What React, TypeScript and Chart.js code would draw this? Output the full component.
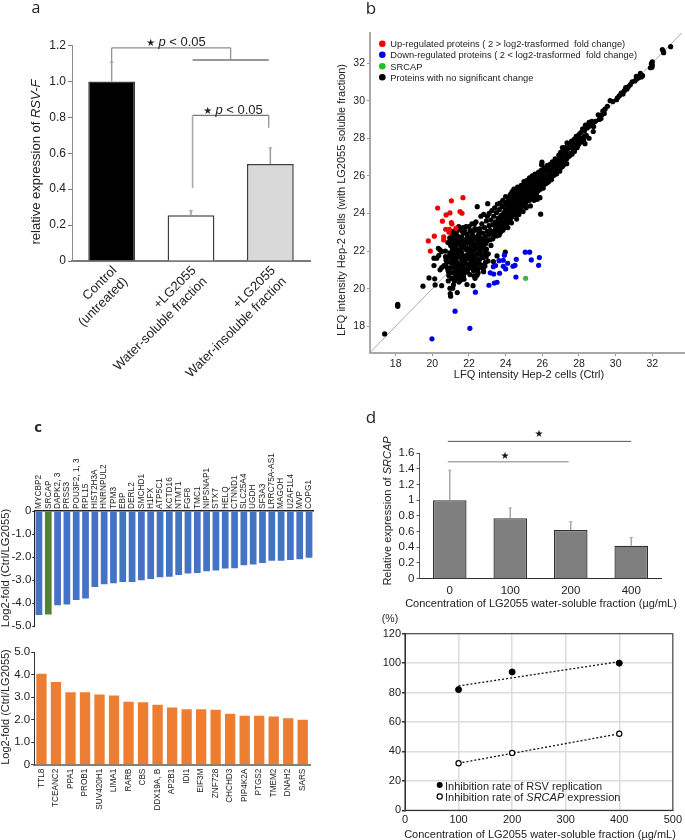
import React, { useEffect, useRef } from "react";
import { Chart, registerables } from "chart.js";

Chart.register(...registerables);

const SANS = "'Liberation Sans', Arial, sans-serif";
const LETTER = "'Open Sans', sans-serif";
const STAR = "'DejaVu Sans', sans-serif";

// ---------- panel a ----------
const aCategories = [
  ["Control", "(untreated)"],
  ["+LG2055", "Water-soluble fraction"],
  ["+LG2055", "Water-insoluble fraction"],
];
const aValues = [1.0, 0.255, 0.54];
const aErrorTops = [1.107, 0.28, 0.63];
const aColors = ["#000000", "#ffffff", "#d9d9d9"];

// ---------- panel b ----------
const bTicks = [18, 20, 22, 24, 26, 28, 30, 32];
const bDiagonal = [16.56, 33.7];
const bRed = [
  [21.67, 24.84], [21.04, 24.67], [20.29, 24.29], [21.51, 24.1], [21.62, 24.01], [20.96, 24.03], [20.75, 23.92],
  [20.55, 23.59], [21.04, 23.51], [21.07, 23.44], [20.73, 23.16], [20.93, 23.16], [20.91, 23.0], [21.29, 23.21],
  [20.62, 22.75], [20.62, 22.59], [20.11, 22.79], [19.78, 22.54], [19.89, 22.0],
];
const bBlue = [
  [19.98, 17.33], [22.05, 17.89], [21.24, 18.8], [22.35, 19.81], [23.09, 20.18], [23.38, 20.3], [23.53, 20.34],
  [24.56, 20.62], [23.16, 20.84], [23.35, 20.78], [23.67, 20.82], [23.33, 21.17], [23.45, 21.23], [23.87, 21.19],
  [24.0, 21.05], [23.64, 21.49], [23.87, 21.51], [24.11, 21.35], [24.4, 21.19], [24.51, 21.24], [24.58, 21.56],
  [23.93, 21.78], [25.07, 21.94], [25.31, 21.94], [25.4, 21.53], [25.84, 21.65], [25.8, 21.24],
];
const bGreen = [[25.09, 20.55]];
const bBlackSparse = [
  [17.4, 17.59], [18.11, 19.17], [18.11, 19.06], [18.11, 19.11], [19.49, 20.13], [19.82, 20.57], [20.13, 20.52], [20.15, 20.2],
  [20.51, 20.16], [21.0, 19.6], [20.98, 19.74], [21.36, 19.79], [21.11, 20.02], [21.15, 20.2], [20.96, 20.02],
  [21.89, 20.22], [22.22, 20.16], [20.87, 20.41], [21.6, 20.55], [21.73, 20.5], [22.33, 20.55], [22.44, 20.71],
  [22.27, 20.68], [21.91, 20.9], [22.78, 21.07], [22.8, 20.9], [20.09, 21.23], [20.09, 21.62], [20.24, 21.62],
  [20.35, 21.76], [20.33, 22.15], [20.42, 22.06], [20.71, 22.0], [20.51, 21.97], [20.42, 21.0], [20.51, 21.12],
  [20.64, 21.23], [20.75, 21.53], [23.53, 21.74], [23.98, 21.94], [23.33, 21.44], [23.04, 21.47], [25.91, 23.96],
  [23.02, 24.52], [22.45, 24.36], [25.64, 24.83], [25.87, 24.84], [25.98, 26.73], [25.96, 26.59], [26.78, 26.11],
  [27.33, 26.65],
];
const bBlackBlob = [
  [20.8, 21.4], [20.85, 21.0], [20.9, 20.7], [20.95, 22.7], [20.85, 22.45], [20.9, 21.7], [21, 22.3], [21, 21.1],
  [21.05, 20.55], [21.05, 21.35], [21.1, 22.85], [21.1, 22.05], [21.1, 20.85], [21.15, 21.6], [21.15, 22.55],
  [21.2, 21.15], [21.2, 20.4], [21.25, 22.25], [21.25, 21.85], [21.3, 20.7], [21.3, 22.95], [21.35, 21.4],
  [21.35, 22.6], [21.4, 21.05], [21.4, 22.0], [21.45, 20.35], [21.45, 21.7], [21.5, 22.35], [21.5, 23.2],
  [21.55, 20.85], [21.55, 21.25], [21.6, 22.75], [21.6, 21.95], [21.65, 21.5], [21.7, 20.65], [21.7, 22.2],
  [21.75, 23.1], [21.75, 21.05], [21.8, 22.5], [21.8, 21.75], [21.85, 20.95], [21.9, 21.3], [21.9, 22.9],
  [21.95, 22.15], [22, 23.3], [22, 21.6], [22.05, 20.75], [22.05, 22.65], [22.1, 21.1], [22.1, 21.95],
  [22.15, 23.0], [22.2, 21.45], [22.25, 22.4], [22.25, 20.95], [22.3, 23.45], [22.3, 21.8], [22.35, 21.25],
  [22.4, 22.75], [22.45, 21.6], [22.45, 23.15], [22.5, 22.1], [22.5, 20.85], [20.95, 21.9], [21.05, 22.55],
  [21.12, 21.2], [21.18, 22.75], [21.22, 21.45], [21.28, 21.0], [21.32, 22.1], [21.38, 20.5], [21.42, 22.45],
  [21.48, 21.15], [21.52, 21.95], [21.58, 22.55], [21.62, 20.75], [21.68, 21.75], [21.72, 22.95], [21.78, 21.35],
  [21.82, 22.3], [21.88, 22.65], [21.92, 21.05], [21.98, 21.85], [22.02, 22.45], [22.08, 21.35], [22.12, 22.25],
  [22.18, 22.85], [22.22, 21.2], [22.28, 22.05], [22.32, 23.2], [22.38, 21.45], [22.42, 22.4], [22.48, 21.05],
  [22.52, 22.85], [22.58, 21.55], [22.62, 21.95], [22.68, 21.25], [22.72, 22.4], [22.78, 21.65], [22.82, 22.15],
  [22.88, 21.9], [22.92, 22.4], [21.02, 21.55], [21.08, 22.2], [21.18, 21.95], [21.28, 21.6], [21.38, 22.8],
  [21.46, 21.3], [21.56, 22.15], [21.66, 21.2], [21.74, 22.6], [21.84, 21.55], [21.94, 22.5], [22.04, 21.8],
  [22.14, 21.55], [22.24, 23.05], [22.34, 22.2], [22.44, 21.85], [22.54, 23.0], [22.64, 22.55], [22.74, 21.1],
  [22.84, 22.65], [22.94, 21.7], [21.22, 20.6], [21.34, 20.9], [21.44, 20.7], [21.54, 20.45], [21.64, 20.95],
  [20.88, 20.9], [20.78, 21.15], [20.72, 21.7], [20.98, 22.55], [21.14, 23.05], [21.24, 22.45], [21.36, 23.1],
  [21.44, 23.3], [21.62, 23.05], [21.68, 23.25], [21.84, 23.3], [22.06, 23.1], [22.16, 23.45], [22.38, 23.55],
  [21.06, 21.75], [21.16, 22.35], [21.26, 21.25], [21.36, 21.8], [21.47, 22.65], [21.57, 21.6], [21.67, 22.4],
  [21.77, 20.85], [21.87, 22.05], [21.97, 21.2], [22.07, 22.05], [22.17, 21.75], [22.27, 22.65], [22.37, 21.0],
  [22.47, 22.6], [22.57, 21.3], [22.67, 21.75], [22.77, 22.25], [22.87, 21.2], [21.13, 21.8], [21.33, 22.4],
  [21.53, 22.6], [21.73, 21.5], [21.93, 22.75], [22.13, 22.6], [22.33, 21.65], [22.53, 22.35], [22.73, 22.65],
];
const bBlackRidgeLow = [
  [22.55, 22.35], [22.6, 23.2], [22.6, 22.7], [22.65, 23.85], [22.7, 22.15], [22.7, 23.45], [22.75, 22.95],
  [22.8, 21.7], [22.8, 23.95], [22.85, 22.45], [22.85, 23.25], [22.9, 21.4], [22.9, 22.8], [22.95, 23.6],
  [22.95, 22.1], [23, 23.05], [23, 22.55], [23, 23.85], [23.05, 21.85], [23.05, 22.85], [23.1, 23.35], [23.1, 24],
  [23.15, 22.6], [23.15, 23.1], [23.2, 23.65], [23.2, 22.3], [23.25, 22.9], [23.25, 24.15], [23.3, 23.4],
  [23.3, 22.65], [23.35, 23.85], [23.35, 23.05], [23.4, 22.85], [23.4, 24.3], [23.45, 23.55], [23.45, 23.2],
  [23.5, 22.8], [23.5, 24.05], [23.55, 23.35], [23.55, 24.5], [23.6, 23.75], [23.6, 23.05], [23.65, 24.2],
  [23.65, 23.5], [23.7, 23.25], [23.7, 24.55], [23.75, 23.9], [23.75, 23.6], [23.8, 24.35], [23.8, 23.3],
  [23.85, 24.7], [23.85, 23.75], [23.9, 24.05], [23.9, 23.5], [23.95, 24.45], [23.95, 23.85], [24, 24.9],
  [24, 23.65], [24, 24.2], [24.05, 24.6], [24.05, 23.95], [24.1, 24.35], [24.1, 23.75], [24.15, 24.8],
  [24.15, 24.1], [24.2, 24.5], [24.2, 23.95], [24.25, 25.0], [24.25, 24.25], [24.3, 24.7], [24.3, 24.05],
  [24.35, 24.45], [24.35, 25.15], [24.4, 24.9], [24.4, 24.2], [24.45, 24.6], [24.45, 25.3], [24.5, 24.35],
  [24.5, 25.0], [24.55, 24.75], [24.55, 24.5], [24.6, 25.2], [24.6, 24.3], [24.65, 24.95], [24.65, 25.4],
  [24.7, 24.6], [24.7, 25.1], [24.75, 24.8], [24.75, 24.45], [24.8, 25.35], [24.8, 25.0], [24.85, 24.7],
  [24.85, 25.5], [24.9, 25.2], [24.9, 24.85], [24.95, 25.45], [24.95, 24.65], [25, 25.05], [25, 25.7],
  [25.05, 25.3], [25.05, 24.85], [25.1, 25.55], [25.1, 25.1], [25.15, 24.95], [25.15, 25.75], [25.2, 25.35],
  [25.25, 25.6], [25.25, 25.1], [25.3, 25.9], [25.3, 25.3], [25.35, 25.5], [25.35, 25.05], [25.4, 25.75],
  [25.45, 25.35], [25.45, 26.0], [25.5, 25.6], [25.5, 25.2], [25.55, 25.85], [25.6, 25.45], [25.6, 26.1],
  [25.65, 25.7], [25.7, 25.35], [25.7, 26.0], [25.75, 25.55], [25.8, 26.2], [25.8, 25.8], [25.85, 25.5],
  [25.9, 26.05], [25.9, 25.65], [25.95, 26.3], [26, 25.85], [26, 26.15], [26.05, 25.65], [26.1, 26.4],
  [26.1, 26.0], [26.15, 25.8], [26.2, 26.25], [26.25, 26.55], [26.25, 26.0], [26.3, 26.3], [26.35, 25.95],
  [26.4, 26.6], [26.4, 26.2], [26.45, 26.4], [26.5, 26.1], [26.55, 26.75], [26.55, 26.45], [26.6, 26.3],
  [26.65, 26.6], [26.7, 26.9], [26.7, 26.4], [26.75, 26.65], [26.8, 26.85], [26.85, 26.55], [26.9, 27.1],
  [26.9, 26.75], [26.95, 26.5], [27, 26.95],
];
const bBlackRidgeEdge = [
  [23.55, 22.95], [23.65, 22.85], [23.72, 23.0], [23.85, 23.1], [23.95, 23.25], [24.02, 23.35], [24.1, 23.5],
  [24.18, 23.65], [24.25, 23.6], [24.32, 23.8], [24.4, 23.9], [24.48, 24.0], [24.55, 23.95], [24.62, 24.1],
  [24.7, 24.2], [24.78, 24.15], [24.85, 24.35], [24.92, 24.4], [25, 24.55], [25.08, 24.5], [25.15, 24.65],
  [25.22, 24.75], [25.3, 24.7], [25.38, 24.85], [25.45, 24.95], [25.52, 24.9], [25.6, 25.05], [25.68, 25.0],
  [25.75, 25.2], [25.82, 25.25], [25.9, 25.3], [25.98, 25.4], [26.05, 25.35], [26.12, 25.55], [26.2, 25.6],
  [26.28, 25.65], [26.35, 25.7], [26.42, 25.85], [26.5, 25.8], [26.58, 26.0], [26.65, 26.05], [26.72, 26.15],
  [26.8, 26.2], [26.88, 26.3], [26.95, 26.25], [27.02, 26.45], [27.1, 26.5], [27.18, 26.6], [27.25, 26.85],
  [27.32, 26.9], [27.4, 27.0], [27.48, 27.05], [27.55, 27.2], [27.62, 27.15], [27.7, 27.4], [27.78, 27.45],
  [27.85, 27.55], [27.92, 27.6], [28, 27.7], [28.1, 27.8], [28.18, 28.0], [28.25, 27.9], [28.4, 28.15],
  [24.12, 23.25], [24.32, 23.5], [24.6, 23.7], [24.72, 23.95], [24.95, 24.1], [25.12, 24.3], [25.35, 24.4],
  [25.55, 24.7], [25.72, 24.75], [24.45, 24.75], [24.62, 24.65], [24.82, 24.55], [24.98, 24.85], [25.18, 24.85],
  [25.28, 25.0], [25.42, 25.15], [25.58, 25.3], [25.78, 25.45], [25.92, 25.55], [26.08, 25.8], [26.22, 25.9],
  [26.38, 26.1], [26.52, 26.3], [26.68, 26.25], [26.82, 26.45], [26.98, 26.7], [27.12, 26.85], [27.28, 27.1],
];
const bBlackRidgeHigh = [
  [27, 27.25], [27.05, 27.05], [27.1, 27.5], [27.15, 27.2], [27.2, 27.4], [27.25, 27.5], [27.3, 27.3], [27.35, 27.75],
  [27.4, 27.45], [27.45, 27.6], [27.5, 27.7], [27.55, 27.5], [27.6, 27.85], [27.65, 27.6], [27.7, 27.8],
  [27.75, 27.95], [27.8, 27.7], [27.85, 28.1], [27.9, 27.85], [27.95, 28.05], [28.33, 27.71], [28.2, 27.85],
  [28.55, 28.0], [28.78, 28.36], [27.75, 27.3], [27.9, 27.5], [28.05, 28.0], [28.3, 28.1], [28, 28.2], [28.1, 28.3],
  [28.2, 28.5], [28.3, 28.4], [28.35, 28.7], [28.45, 28.55], [28.8, 28.62], [28.7, 28.9], [28.55, 28.85],
  [28.6, 28.65], [28.75, 28.75], [28.9, 28.9], [29.2, 29.05], [29.05, 29.25], [29.1, 29], [29.15, 29.2],
  [29.25, 29.25], [29.3, 29.45], [29.38, 29.32], [29.42, 29.55], [29.55, 29.7], [29.7, 30], [29.85, 29.95],
  [30.05, 30.05], [30.1, 30.15], [30.2, 30.25], [30.3, 30.4], [30.4, 30.35], [30.45, 30.5], [30.5, 30.55],
  [30.55, 30.7], [30.62, 30.62], [30.7, 30.75], [30.8, 30.85], [30.9, 31], [31.05, 31.05], [31.13, 31.3],
  [31.15, 31.15], [31.25, 31.22], [31.3, 31.28], [31.35, 31.45], [31.4, 31.26], [31.47, 31.33], [31.9, 31.75],
  [31.98, 31.78], [32, 31.9], [31.95, 31.97], [32, 32.07], [32.62, 32.55], [32.55, 32.72], [32.6, 32.62],
  [33, 32.87],
];

// ---------- panel c ----------
const cDownLabels = [
  "MYCBP2", "SRCAP", "DAPK2, 3", "PRSS3", "POU3F2, 1, 3", "RPL15", "HIST2H3A", "HNRNPUL2", "TPM3", "EBP", "DERL2",
  "SMCHD1", "H1FX", "ATP5C1", "KCTD16", "NTMT1", "FGF8", "TMC1", "NIPSNAP1", "STX7", "HELQ", "CTNND1", "SLC25A4",
  "UGDH", "SF3A3", "LRRC75A-AS1", "MAGOH", "U2AF1L4", "MVP", "COPG1",
];
const cDownValues = [
  -4.52, -4.5, -4.1, -4.06, -3.87, -3.8, -3.3, -3.19, -3.14, -3.09, -3.09, -3.01, -2.96, -2.88, -2.86, -2.78, -2.72,
  -2.7, -2.62, -2.59, -2.5, -2.49, -2.36, -2.33, -2.26, -2.16, -2.16, -2.13, -2.1, -2.03,
];
const cUpLabels = [
  "TTL8", "TCEANC2", "PPA1", "PROB1", "SUV420H1", "LIMA1", "RARB", "CBS", "DDX19A, B", "AP2B1", "IDI1", "EIF3M",
  "ZNF728", "CHCHD3", "PIP4K2A", "PTGS2", "TMEM2", "DNAH2", "SARS",
];
const cUpValues = [4.05, 3.68, 3.22, 3.22, 3.12, 3.08, 2.8, 2.78, 2.67, 2.55, 2.47, 2.47, 2.44, 2.27, 2.18, 2.18, 2.14, 2.07, 2.0];

// ---------- panel d ----------
const dDoses = ["0", "100", "200", "400"];
const dValues = [1.0, 0.77, 0.62, 0.42];
const dErrorTops = [1.38, 0.9, 0.725, 0.525];
const dReplication = [[100, 82], [200, 94], [400, 100]];
const dSrcap = [[100, 32], [200, 39], [400, 52]];
const dReplicationTrend = [[100, 84.5], [400, 101]];
const dSrcapTrend = [[100, 32], [400, 52]];

// ---------- helpers ----------
const GUTTER = 30;
type Run = { t: string; italic?: boolean; bold?: boolean; family?: string; size?: number };

function text(ctx: any, runs: Run[], x: number, y: number, size: number, o: { angle?: number; align?: string; color?: string } = {}) {
  ctx.save();
  ctx.translate(x, y);
  ctx.rotate(o.angle || 0);
  ctx.textBaseline = "alphabetic";
  ctx.textAlign = "left";
  ctx.fillStyle = o.color || "#222";
  const font = (r: Run) => `${r.italic ? "italic " : ""}${r.bold ? "bold " : ""}${r.size || size}px ${r.family || SANS}`;
  let total = 0;
  for (const r of runs) {
    ctx.font = font(r);
    total += ctx.measureText(r.t).width;
  }
  let cx = o.align === "left" ? 0 : -total / 2;
  for (const r of runs) {
    ctx.font = font(r);
    ctx.fillText(r.t, cx, 0);
    cx += ctx.measureText(r.t).width;
  }
  ctx.restore();
}

function segment(ctx: any, x1: number, y1: number, x2: number, y2: number, color: string, width: number) {
  ctx.save();
  ctx.strokeStyle = color;
  ctx.lineWidth = width;
  ctx.beginPath();
  ctx.moveTo(x1, y1);
  ctx.lineTo(x2, y2);
  ctx.stroke();
  ctx.restore();
}

function errorBars(chart: any, values: number[], tops: number[], color: string) {
  const { x, y } = chart.scales;
  values.forEach((v, i) => {
    const px = x.getPixelForValue(i);
    segment(chart.ctx, px, y.getPixelForValue(v), px, y.getPixelForValue(tops[i]), color, 1.5);
    segment(chart.ctx, px - 1.8, y.getPixelForValue(tops[i]), px + 1.8, y.getPixelForValue(tops[i]), color, 1);
  });
}

function frame(left: number, top: number, right: number, bottom: number, xBand = GUTTER, xOnTop = false) {
  return {
    autoPadding: false,
    padding: {
      left: left - GUTTER,
      right: 685 - right,
      top: xOnTop ? top - xBand : top,
      bottom: xOnTop ? 840 - bottom : 840 - bottom - xBand,
    },
  };
}
const fitY = (s: any) => { s.width = GUTTER; };
const fitX = (band: number) => (s: any) => { s.height = band; };
const tickFont = (size: number, family = SANS) => ({ size, family });
const fixedTicks = (values: number[]) => (s: any) => { s.ticks = values.map((value) => ({ value })); };
const one = (v: number) => (v === 0 ? "0" : v.toFixed(1));
const base = { animation: false, responsive: false, plugins: { legend: { display: false }, tooltip: { enabled: false } } };
const noXGrid = { display: false, drawTicks: false };

function pairs(points: number[][]) {
  return points.map(([x, y]) => ({ x, y }));
}

// ---------- chart configs ----------
const panelA = {
  type: "bar",
  data: {
    labels: aCategories,
    datasets: [{ data: aValues, backgroundColor: aColors, borderColor: "#3c3c3c", borderWidth: 1.5, barPercentage: 0.59, categoryPercentage: 1 }],
  },
  options: {
    ...base,
    layout: frame(72, 45.5, 310, 261, 130),
    scales: {
      x: {
        afterFit: fitX(130),
        grid: noXGrid,
        border: { color: "#7a7a7a", width: 2 },
        ticks: { minRotation: 45, maxRotation: 45, padding: 2, labelOffset: 3, autoSkip: false, color: "#222", font: tickFont(13) },
      },
      y: {
        afterFit: fitY,
        min: 0,
        max: 1.2,
        grid: { drawOnChartArea: false, tickLength: 4, tickColor: "#7a7a7a" },
        border: { color: "#8a8a8a", width: 1 },
        ticks: { stepSize: 0.2, autoSkip: false, padding: 2, color: "#222", font: tickFont(12), callback: one },
      },
    },
  },
  plugins: [{
    id: "a",
    afterDatasetsDraw(chart: any) {
      const { ctx } = chart;
      const { x, y } = chart.scales;
      errorBars(chart, aValues, aErrorTops, "#9a9a9a");
      const c = "#8c8c8c";
      const top = y.getPixelForValue(1.187);
      const mid = y.getPixelForValue(1.119);
      const x0 = x.getPixelForValue(0);
      const xL = x.getPixelForValue(1.02);
      const xR = x.getPixelForValue(1.98);
      const xM = x.getPixelForValue(1.5);
      segment(ctx, x0, top, xM, top, c, 1.2);
      segment(ctx, x0, top, x0, y.getPixelForValue(1.107), c, 1.2);
      segment(ctx, xM, top, xM, mid, c, 1.2);
      segment(ctx, xL, mid, xR, mid, "#777", 1.4);
      const b = y.getPixelForValue(0.811);
      segment(ctx, xL, b, xR, b, "#777", 1.2);
      segment(ctx, xL, b, xL, y.getPixelForValue(0.407), "#aaa", 1.6);
      segment(ctx, xR, b, xR, y.getPixelForValue(0.742), "#888", 1.2);
      text(ctx, [{ t: "★ ", family: STAR, size: 10 }, { t: "p", italic: true }, { t: " < 0.05" }], 176, 46, 13);
      text(ctx, [{ t: "★ ", family: STAR, size: 10 }, { t: "p", italic: true }, { t: " < 0.05" }], 233, 114, 13);
      text(ctx, [{ t: "relative expression of " }, { t: "RSV-F", italic: true }], 40, 162, 13, { angle: -Math.PI / 2 });
      text(ctx, [{ t: "a", family: LETTER }], 36, 13, 16);
    },
  }],
};

const sharedPoint = { showLine: false, pointRadius: 2.6, pointBorderWidth: 0 };
const panelB = {
  type: "scatter",
  data: {
    datasets: [
      { data: pairs([...bBlackSparse, ...bBlackBlob, ...bBlackRidgeLow, ...bBlackRidgeEdge, ...bBlackRidgeHigh]), pointBackgroundColor: "#000", order: 3, ...sharedPoint },
      { data: pairs(bRed), pointBackgroundColor: "#f00000", order: 2, ...sharedPoint },
      { data: pairs(bBlue), pointBackgroundColor: "#0000e6", order: 2, ...sharedPoint },
      { data: pairs(bGreen), pointBackgroundColor: "#3fb63f", order: 1, ...sharedPoint },
      {
        data: pairs([[bDiagonal[0], bDiagonal[0]], [bDiagonal[1], bDiagonal[1]]]),
        showLine: true,
        pointRadius: 0,
        borderColor: "#aaaaaa",
        borderWidth: 1,
        order: 4,
      },
    ],
  },
  options: {
    ...base,
    layout: frame(370, 33, 684, 353.3),
    scales: {
      x: {
        type: "linear",
        min: 16.6,
        max: 33.73,
        afterFit: fitX(GUTTER),
        afterBuildTicks: fixedTicks(bTicks),
        grid: { drawOnChartArea: false, tickLength: 3, tickColor: "#999" },
        border: { color: "#a8a8a8", width: 2 },
        ticks: { padding: 2, color: "#222", font: tickFont(10.5) },
      },
      y: {
        min: 16.56,
        max: 33.6,
        afterFit: fitY,
        afterBuildTicks: fixedTicks(bTicks),
        grid: { drawOnChartArea: false, tickLength: 3, tickColor: "#999" },
        border: { color: "#a8a8a8", width: 2 },
        ticks: { padding: 2, color: "#222", font: tickFont(10.5) },
      },
    },
  },
  plugins: [{
    id: "b",
    afterDatasetsDraw(chart: any) {
      const { ctx } = chart;
      const rows = [
        ["#f00000", "Up-regulated proteins ( 2 > log2-trasformed  fold change)", 43.7],
        ["#0000e6", "Down-regulated proteins ( 2 < log2-trasformed  fold change)", 54.8],
        ["#22c022", "SRCAP", 66.2],
        ["#000000", "Proteins with no significant change", 77.3],
      ] as [string, string, number][];
      rows.forEach(([c, t, y]) => {
        ctx.save();
        ctx.fillStyle = c;
        ctx.beginPath();
        ctx.arc(382.3, y, 3.3, 0, Math.PI * 2);
        ctx.fill();
        ctx.restore();
        text(ctx, [{ t }], 390.3, y + 3.3, 9.3, { align: "left" });
      });
      text(ctx, [{ t: "LFQ intensity Hep-2 cells (Ctrl)" }], 529, 378, 11);
      text(ctx, [{ t: "LFQ intensity Hep-2 cells (with LG2055 soluble fraction)" }], 345, 200, 11, { angle: -Math.PI / 2 });
      text(ctx, [{ t: "b", family: LETTER }], 371, 14, 17);
    },
  }],
};

const panelCTop = {
  type: "bar",
  data: {
    labels: cDownLabels,
    datasets: [{
      data: cDownValues,
      backgroundColor: cDownLabels.map((l) => (l === "SRCAP" ? "#548235" : "#4472c4")),
      barPercentage: 0.72,
      categoryPercentage: 1,
    }],
  },
  options: {
    ...base,
    layout: frame(34.3, 511, 313.7, 626, 100, true),
    scales: {
      x: {
        position: "top",
        afterFit: fitX(100),
        grid: noXGrid,
        border: { color: "#222", width: 1.5 },
        ticks: { minRotation: 90, maxRotation: 90, padding: 2, labelOffset: 10, autoSkip: false, color: "#222", font: tickFont(8.3) },
      },
      y: {
        min: -5,
        max: 0,
        afterFit: fitY,
        grid: { drawOnChartArea: false, tickLength: 2, tickColor: "#222" },
        border: { color: "#222", width: 1 },
        ticks: { stepSize: 1, autoSkip: false, padding: 1, color: "#222", font: tickFont(11.5), callback: one },
      },
    },
  },
  plugins: [{
    id: "c1",
    afterDatasetsDraw(chart: any) {
      text(chart.ctx, [{ t: "Log2-fold (Ctrl/LG2055)" }], 9, 568, 11.3, { angle: -Math.PI / 2 });
      text(chart.ctx, [{ t: "c", bold: true, family: LETTER }], 38, 432, 15);
    },
  }],
};

const panelCBottom = {
  type: "bar",
  data: {
    labels: cUpLabels,
    datasets: [{ data: cUpValues, backgroundColor: "#ed7d31", barPercentage: 0.71, categoryPercentage: 1 }],
  },
  options: {
    ...base,
    layout: frame(34.2, 652.3, 310, 764.7, 70),
    scales: {
      x: {
        afterFit: fitX(70),
        grid: noXGrid,
        border: { color: "#808080", width: 2 },
        ticks: { minRotation: 90, maxRotation: 90, padding: 4, autoSkip: false, color: "#222", font: tickFont(8.2) },
      },
      y: {
        min: 0,
        max: 5,
        afterFit: fitY,
        grid: { drawOnChartArea: false, tickLength: 3, tickColor: "#333" },
        border: { color: "#333", width: 1 },
        ticks: { stepSize: 1, autoSkip: false, padding: 1, color: "#222", font: tickFont(11.5), callback: one },
      },
    },
  },
  plugins: [{
    id: "c2",
    afterDatasetsDraw(chart: any) {
      text(chart.ctx, [{ t: "Log2-fold (Ctrl/LG2055)" }], 9, 707, 11, { angle: -Math.PI / 2 });
    },
  }],
};

const panelDTop = {
  type: "bar",
  data: {
    labels: dDoses,
    datasets: [{ data: dValues, backgroundColor: "#7f7f7f", borderColor: "#2f2f2f", borderWidth: 1.3, barPercentage: 0.555, categoryPercentage: 1 }],
  },
  options: {
    ...base,
    layout: frame(419.5, 453, 661.5, 578.7),
    scales: {
      x: {
        afterFit: fitX(GUTTER),
        grid: noXGrid,
        border: { color: "#333", width: 1 },
        ticks: { padding: 5, color: "#222", font: tickFont(11.5) },
      },
      y: {
        min: 0,
        max: 1.6,
        afterFit: fitY,
        grid: { drawOnChartArea: false, tickLength: 3, tickColor: "#555" },
        border: { color: "#555", width: 1 },
        ticks: { stepSize: 0.2, autoSkip: false, padding: 2, color: "#222", font: tickFont(11.5), callback: (v: number) => String(Math.round(v * 10) / 10) },
      },
    },
  },
  plugins: [{
    id: "d1",
    afterDatasetsDraw(chart: any) {
      const { ctx } = chart;
      const { x, y } = chart.scales;
      errorBars(chart, dValues, dErrorTops, "#a8a8a8");
      const left = x.getPixelForValue(0);
      const a = y.getPixelForValue(1.748);
      const b = y.getPixelForValue(1.489);
      segment(ctx, left - 2, a, x.getPixelForValue(3), a, "#555", 1);
      segment(ctx, left - 2, b, x.getPixelForValue(2) - 2, b, "#aaa", 1.4);
      text(ctx, [{ t: "★", family: STAR }], 539, 437, 10, { color: "#111" });
      text(ctx, [{ t: "★", family: STAR }], 505, 459, 10, { color: "#111" });
      text(ctx, [{ t: "Relative expression of " }, { t: "SRCAP", italic: true }], 391, 511, 11, { angle: -Math.PI / 2 });
      text(ctx, [{ t: "Concentration of LG2055 water-soluble fraction (µg/mL)" }], 541, 607, 11);
      text(ctx, [{ t: "d", family: LETTER }], 371, 423, 17);
    },
  }],
};

const panelDBottom = {
  type: "scatter",
  data: {
    datasets: [
      { data: pairs(dReplication), showLine: false, pointRadius: 3, pointBackgroundColor: "#000", pointBorderColor: "#000", order: 1 },
      { data: pairs(dSrcap), showLine: false, pointRadius: 2.6, pointBackgroundColor: "#fff", pointBorderColor: "#000", pointBorderWidth: 1.2, order: 1 },
      { data: pairs(dReplicationTrend), showLine: true, pointRadius: 0, borderColor: "#111", borderWidth: 1.3, borderDash: [2, 2], order: 2 },
      { data: pairs(dSrcapTrend), showLine: true, pointRadius: 0, borderColor: "#111", borderWidth: 1.3, borderDash: [2, 2], order: 2 },
    ],
  },
  options: {
    ...base,
    layout: frame(405, 633.7, 674, 810.3),
    scales: {
      x: {
        type: "linear",
        min: 0,
        max: 500,
        afterFit: fitX(GUTTER),
        grid: { color: "#dcdcdc", lineWidth: 1.5, tickLength: 0 },
        border: { color: "#333", width: 1 },
        ticks: { stepSize: 100, padding: 3, color: "#222", font: tickFont(11) },
      },
      y: {
        min: 0,
        max: 120,
        afterFit: fitY,
        grid: { color: "#dcdcdc", lineWidth: 1.5, tickLength: 3, tickColor: "#333" },
        border: { color: "#333", width: 1 },
        ticks: { stepSize: 20, padding: 1, color: "#222", font: tickFont(11) },
      },
    },
  },
  plugins: [{
    id: "d2",
    afterDatasetsDraw(chart: any) {
      const { ctx, chartArea: a } = chart;
      ctx.save();
      ctx.strokeStyle = "#333";
      ctx.lineWidth = 1;
      ctx.strokeRect(a.left, a.top, a.right - a.left, a.bottom - a.top);
      ctx.fillStyle = "#000";
      ctx.beginPath();
      ctx.arc(439.7, 785, 3, 0, Math.PI * 2);
      ctx.fill();
      ctx.fillStyle = "#fff";
      ctx.lineWidth = 1.2;
      ctx.strokeStyle = "#000";
      ctx.beginPath();
      ctx.arc(439.7, 796.5, 2.6, 0, Math.PI * 2);
      ctx.fill();
      ctx.stroke();
      ctx.restore();
      text(ctx, [{ t: "Inhibition rate of RSV replication" }], 445, 790, 11, { align: "left" });
      text(ctx, [{ t: "Inhibition rate of " }, { t: "SRCAP", italic: true }, { t: " expression" }], 445, 801, 11, { align: "left" });
      text(ctx, [{ t: "(%)" }], 390, 622, 10.5);
      text(ctx, [{ t: "Concentration of LG2055 water-soluble fraction (µg/mL)" }], 540, 838, 11);
    },
  }],
};

const configs: any[] = [panelA, panelB, panelCTop, panelCBottom, panelDTop, panelDBottom];

function Panel({ config }: { config: any }) {
  const ref = useRef<HTMLCanvasElement | null>(null);
  useEffect(() => {
    const chart = new Chart(ref.current as HTMLCanvasElement, config);
    return () => chart.destroy();
  }, [config]);
  return <canvas ref={ref} width={685} height={840} style={{ position: "absolute", left: 0, top: 0, width: 685, height: 840 }} />;
}

export default function App() {
  return (
    <div style={{ position: "absolute", left: 0, top: 0, width: 685, height: 840, background: "#fff", overflow: "hidden" }}>
      {configs.map((c, i) => (
        <Panel key={i} config={c} />
      ))}
    </div>
  );
}
